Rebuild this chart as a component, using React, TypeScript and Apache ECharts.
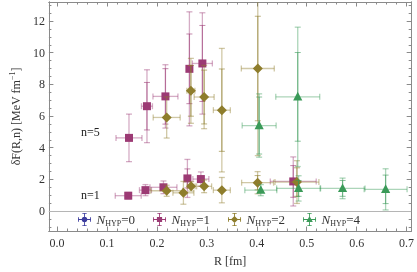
import React, { useEffect, useRef } from 'react';
import * as echarts from 'echarts';

// legend entries
const seriesNames = ['N_HYP=0', 'N_HYP=1', 'N_HYP=2', 'N_HYP=4'];
const seriesColors = ['#3d3d9e', '#9c3a74', '#8e7d2c', '#3a9a58'];
const seriesMarkers = ['circle', 'square', 'diamond', 'triangle'];

// each point: [R, deltaF, errR, errF_total, errF_inner]
const hyp0Points: number[][] = [];
const hyp1Points: number[][] = [
  [0.144, 4.62, 0.026, 1.5, 0],
  [0.18, 6.62, 0.011, 2.3, 1.5],
  [0.217, 7.24, 0.025, 2.0, 1.75],
  [0.265, 8.98, 0.005, 3.6, 2.2],
  [0.291, 9.32, 0.02, 3.2, 2.4],
  [0.1425, 0.97, 0.026, 0.2, 0],
  [0.177, 1.32, 0.012, 0.35, 0],
  [0.213, 1.5, 0.027, 0.4, 0],
  [0.261, 2.06, 0.005, 1.2, 0.6],
  [0.288, 2.02, 0.016, 0.45, 0],
  [0.473, 1.87, 0.046, 1.55, 1.0],
];
const hyp2Points: number[][] = [
  [0.2195, 5.91, 0.027, 1.3, 0],
  [0.268, 7.59, 0.008, 2.05, 1.6],
  [0.2945, 7.2, 0.02, 2.0, 1.7],
  [0.33, 6.37, 0.017, 3.9, 2.6],
  [0.402, 9.0, 0.033, 5.5, 3.3],
  [0.2195, 1.28, 0.032, 0.35, 0],
  [0.253, 1.15, 0.021, 0.72, 0],
  [0.2685, 1.56, 0.008, 0.3, 0],
  [0.2945, 1.56, 0.015, 0.4, 0],
  [0.33, 1.32, 0.017, 0.8, 0],
  [0.4016, 1.79, 0.032, 0.7, 0.45],
  [0.4804, 1.83, 0.044, 1.35, 0.9],
];
const hyp4Points: number[][] = [
  [0.4047, 5.4, 0.034, 2.0, 1.8],
  [0.482, 7.21, 0.044, 4.4, 2.8],
  [0.408, 1.32, 0.032, 0.35, 0],
  [0.4837, 1.43, 0.044, 0.8, 0.5],
  [0.5718, 1.43, 0.045, 0.65, 0.5],
  [0.658, 1.37, 0.043, 1.3, 0.9],
];
const allPoints = [hyp0Points, hyp1Points, hyp2Points, hyp4Points];

// axes
const xRange = [-0.0164, 0.7092];
const yRange = [-1.26, 13.2];
const xMajorTicks = [0, 0.1, 0.2, 0.3, 0.4, 0.5, 0.6, 0.7];
const yMajorTicks = [0, 2, 4, 6, 8, 10, 12];
const xMinorTicks: number[] = [];
for (let i = 0; i <= 35; i++) if (i % 5 !== 0) xMinorTicks.push(Math.round(i * 2) / 100);
const yMinorTicks: number[] = [];
for (let i = -2; i <= 26; i++) if (i % 4 !== 0) yMinorTicks.push(i / 2);

const annotations = [
  { text: 'n=5', left: 81, top: 126 },
  { text: 'n=1', left: 81, top: 189 },
];

const SERIF = '"Liberation Serif", "DejaVu Serif", serif';
const FRAME = '#8a8a8a';

const markerPaths: Record<string, string> = {
  circle: 'M6.2,10 A3.8,3.8 0 1,1 13.8,10 A3.8,3.8 0 1,1 6.2,10 Z',
  square: 'M6.4,6.4 H13.6 V13.6 H6.4 Z',
  diamond: 'M10,5 L15,10 L10,15 L5,10 Z',
  triangle: 'M10,5.2 L14.6,13.6 L5.4,13.6 Z',
};
const crossPath =
  'M1,9.4 H19 V10.6 H1 Z M1,7 H2.2 V13 H1 Z M17.8,7 H19 V13 H17.8 Z ' +
  'M9.4,1 H10.6 V19 H9.4 Z M7,1 H13 V2.2 H7 Z M7,17.8 H13 V19 H7 Z ';

function makeRenderItem(marker: string) {
  return (params: any, api: any) => {
    const x = api.value(0);
    const y = api.value(1);
    const ex = api.value(2);
    const ey = api.value(3);
    const ei = api.value(4);
    const c = api.coord([x, y]);
    const cx = c[0];
    const cy = c[1];
    const color = api.visual('color');
    const cap = 3;
    const light = { stroke: color, lineWidth: 1.3, opacity: 0.42 };
    const dark = { stroke: color, lineWidth: 1, opacity: 0.6 };
    const ln = (x1: number, y1: number, x2: number, y2: number, style: any) => ({
      type: 'line',
      shape: { x1, y1, x2, y2 },
      style,
    });
    const children: any[] = [];
    if (ex > 0) {
      const xl = api.coord([x - ex, y])[0];
      const xr = api.coord([x + ex, y])[0];
      children.push(ln(xl, cy, xr, cy, light));
      children.push(ln(xl, cy - cap, xl, cy + cap, light));
      children.push(ln(xr, cy - cap, xr, cy + cap, light));
    }
    if (ey > 0) {
      const yt = api.coord([x, y + ey])[1];
      const yb = api.coord([x, y - ey])[1];
      children.push(ln(cx, yt, cx, yb, light));
      children.push(ln(cx - cap, yt, cx + cap, yt, light));
      children.push(ln(cx - cap, yb, cx + cap, yb, light));
    }
    if (ei > 0) {
      const it = api.coord([x, y + ei])[1];
      const ib = api.coord([x, y - ei])[1];
      children.push(ln(cx, it, cx, ib, dark));
      children.push(ln(cx - cap, it, cx + cap, it, dark));
      children.push(ln(cx - cap, ib, cx + cap, ib, dark));
    }
    const fill = { fill: color };
    if (marker === 'square') {
      children.push({ type: 'rect', shape: { x: cx - 4, y: cy - 4, width: 8, height: 8 }, style: fill });
    } else if (marker === 'diamond') {
      children.push({
        type: 'polygon',
        shape: { points: [[cx, cy - 5], [cx + 5, cy], [cx, cy + 5], [cx - 5, cy]] },
        style: fill,
      });
    } else if (marker === 'triangle') {
      children.push({
        type: 'polygon',
        shape: { points: [[cx, cy - 5], [cx + 4.6, cy + 3.6], [cx - 4.6, cy + 3.6]] },
        style: fill,
      });
    } else {
      children.push({ type: 'circle', shape: { cx, cy, r: 4 }, style: fill });
    }
    return { type: 'group', children };
  };
}

export default function App() {
  const ref = useRef<HTMLDivElement>(null);
  useEffect(() => {
    if (!ref.current) return;
    const chart = echarts.init(ref.current, undefined, { renderer: 'svg' });

    const baseX = {
      type: 'value',
      min: xRange[0],
      max: xRange[1],
      splitLine: { show: false },
      axisLine: { show: true, onZero: false, lineStyle: { color: FRAME, width: 1 } },
    };
    const baseY = {
      type: 'value',
      min: yRange[0],
      max: yRange[1],
      splitLine: { show: false },
      axisLine: { show: true, onZero: false, lineStyle: { color: FRAME, width: 1 } },
    };
    const tick = (values: number[], len: number) => ({
      show: true,
      inside: true,
      length: len,
      customValues: values,
      lineStyle: { color: FRAME, width: 1 },
    });
    const noLabel = { show: false };

    const xAxes = [
      {
        ...baseX,
        position: 'bottom',
        axisTick: tick(xMajorTicks, 4.5),
        axisLabel: {
          show: true,
          customValues: xMajorTicks,
          formatter: (v: number) => v.toFixed(1),
          fontFamily: SERIF,
          fontSize: 12,
          color: '#333',
          margin: 6,
        },
        name: 'R [fm]',
        nameLocation: 'middle',
        nameGap: 24,
        nameTextStyle: { fontFamily: SERIF, fontSize: 12, color: '#333' },
      },
      { ...baseX, position: 'bottom', axisTick: tick(xMinorTicks, 2.5), axisLabel: noLabel },
      { ...baseX, position: 'top', axisTick: tick(xMajorTicks, 4.5), axisLabel: noLabel },
      { ...baseX, position: 'top', axisTick: tick(xMinorTicks, 2.5), axisLabel: noLabel },
    ];
    const yAxes = [
      {
        ...baseY,
        position: 'left',
        axisTick: tick(yMajorTicks, 4.5),
        axisLabel: {
          show: true,
          customValues: yMajorTicks,
          formatter: (v: number) => String(v),
          fontFamily: SERIF,
          fontSize: 12,
          color: '#333',
          margin: 4,
        },
        name: '{m|δF(R,n) [MeV fm}{s|−1}{m|]}',
        nameLocation: 'middle',
        nameGap: 22,
        nameTextStyle: {
          fontFamily: SERIF,
          fontSize: 12,
          color: '#333',
          rich: {
            m: { fontFamily: SERIF, fontSize: 12, color: '#333', lineHeight: 14, verticalAlign: 'bottom' },
            s: { fontFamily: SERIF, fontSize: 8, color: '#333', lineHeight: 14, verticalAlign: 'top' },
          },
        },
      },
      { ...baseY, position: 'left', axisTick: tick(yMinorTicks, 2.5), axisLabel: noLabel },
      { ...baseY, position: 'right', axisTick: tick(yMajorTicks, 4.5), axisLabel: noLabel },
      { ...baseY, position: 'right', axisTick: tick(yMinorTicks, 2.5), axisLabel: noLabel },
    ];

    const series: any[] = seriesNames.map((name, i) => ({
      type: 'custom',
      name,
      xAxisIndex: 0,
      yAxisIndex: 0,
      clip: true,
      color: seriesColors[i],
      itemStyle: { color: seriesColors[i] },
      data: allPoints[i],
      encode: { x: 0, y: 1 },
      renderItem: makeRenderItem(seriesMarkers[i]),
      z: 3 + i,
    }));
    series[1].markLine = {
      silent: true,
      symbol: 'none',
      label: { show: false },
      lineStyle: { color: '#b5b5b5', type: 'solid', width: 1 },
      data: [{ yAxis: 0 }],
      z: 1,
    };

    chart.setOption({
      animation: false,
      grid: { left: 42, right: 4, top: 2, bottom: 41, containLabel: false },
      xAxis: xAxes,
      yAxis: yAxes,
      legend: {
        left: 78,
        top: 213,
        padding: 0,
        itemWidth: 14,
        itemHeight: 13,
        itemGap: 18,
        data: seriesNames.map((name, i) => ({
          name,
          icon: 'path://' + crossPath + markerPaths[seriesMarkers[i]],
        })),
        formatter: (name: string) => `{n|N}{s|HYP}{t|=${name.split('=')[1]}}`,
        textStyle: {
          fontFamily: SERIF,
          fontSize: 13,
          color: '#333',
          rich: {
            n: { fontFamily: SERIF, fontStyle: 'italic', fontSize: 13, color: '#333', lineHeight: 16, verticalAlign: 'middle' },
            s: { fontFamily: SERIF, fontSize: 8, color: '#333', lineHeight: 16, verticalAlign: 'bottom' },
            t: { fontFamily: SERIF, fontSize: 13, color: '#333', lineHeight: 16, verticalAlign: 'middle' },
          },
        },
      },
      graphic: annotations.map((a) => ({
        type: 'text',
        left: a.left,
        top: a.top,
        style: { text: a.text, fontFamily: SERIF, fontSize: 12, fill: '#222' },
      })),
      series,
    });
    return () => chart.dispose();
  }, []);
  return <div ref={ref} style={{ position: 'fixed', left: 0, top: 0, width: 417, height: 272 }} />;
}
